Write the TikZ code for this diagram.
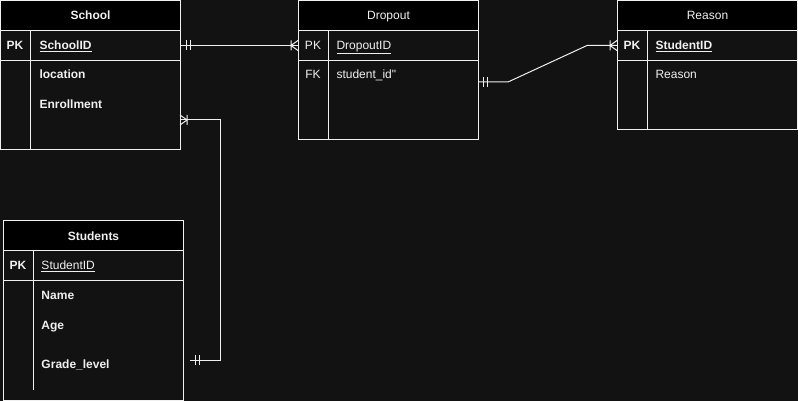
\documentclass[tikz,border=0pt]{standalone}
\usepackage{fontspec}
\setmainfont{Liberation Sans}
\newfontfamily\plainfont{Liberation Sans}
\definecolor{bg}{HTML}{121212}
\definecolor{ink}{HTML}{F0F0F0}

\begin{document}
\begin{tikzpicture}[x=1pt,y=-1pt,line width=1pt,
    every node/.style={text=ink,font=\fontsize{12}{14}\selectfont,text height=11pt,text depth=2pt},
    hdr/.style={draw=ink,fill=black,minimum width=180pt,minimum height=30pt,anchor=north west,inner sep=0pt},
    keyrow/.style={draw=ink,minimum width=180pt,minimum height=30pt,anchor=north west,inner sep=0pt},
    field/.style={anchor=west,inner sep=0pt},
    tag/.style={inner sep=0pt},
    one/.pic={\draw[ink] (5,-5) -- (5,5) (9,-5) -- (9,5);},
    many/.pic={\draw[ink] (0,-5) -- (7,0) -- (0,5) (7,-5) -- (7,5);}]
  \fill[bg] (0,0) rectangle (798,401);
  \useasboundingbox (0,0) rectangle (798,401);

  \def \Tables {
    school/0/0/150/120/\textbf{School},
    dropout/298/0/140/110/Dropout,
    reason/617/0/130/100/Reason,
    students/3/220/180/140/\textbf{Students}}

  \foreach \id / \x / \y / \h / \d / \t in \Tables {
    \draw[ink] (\x,\y) rectangle ++(180,\h);
    \node[hdr] (\id-h) at (\x,\y) {\t};
    \node[keyrow] (\id-pk) at (\x,\y+30) {};
    \draw[ink] (\x+30,\y+30) -- ++(0,\d);
  }

  % School
  \node[tag] (school-pktag) at (15,45) {\textbf{PK}};
  \node[field] (school-id) at (39,45) {\textbf{\underline{SchoolID}}};
  \node[field] (school-loc) at (39,74) {\textbf{location}};
  \node[field] (school-enr) at (39,104) {\textbf{Enrollment}};

  % Dropout
  \node[tag] (dropout-pktag) at (313,45) {PK};
  \node[field] (dropout-id) at (336,45) {\underline{DropoutID}};
  \node[tag] (dropout-fktag) at (313,74) {FK};
  \node[field] (dropout-sid) at (336,74) {\plainfont student\_id"};

  % Reason
  \node[tag] (reason-pktag) at (632,45) {\textbf{PK}};
  \node[field] (reason-id) at (655,45) {\textbf{\underline{StudentID}}};
  \node[field] (reason-txt) at (655,74) {Reason};

  % Students
  \node[tag] (students-pktag) at (18,265) {\textbf{PK}};
  \node[field] (students-id) at (41,265) {\underline{StudentID}};
  \node[field] (students-name) at (41,295) {\textbf{Name}};
  \node[field] (students-age) at (41,325) {\textbf{Age}};
  \node[field] (students-gl) at (41,364) {\textbf{Grade\_level}};

  % relations
  \coordinate (dropout-fk) at (478,82);
  \coordinate (school-in) at (180,120);
  \coordinate (students-out) at (190,360);

  \draw[ink] (school-pk.east) -- (dropout-pk.west);
  \pic at (school-pk.east) {one};
  \pic[rotate=180] at (dropout-pk.west) {many};

  \draw[ink] (dropout-fk) -- ++(30,0) -- ([xshift=-30pt]reason-pk.west) -- (reason-pk.west);
  \pic at (dropout-fk) {one};
  \pic[rotate=180] at (reason-pk.west) {many};

  \draw[ink] (students-out) -- ++(30,0) |- (school-in);
  \pic at (students-out) {one};
  \pic at (school-in) {many};
\end{tikzpicture}
\end{document}
